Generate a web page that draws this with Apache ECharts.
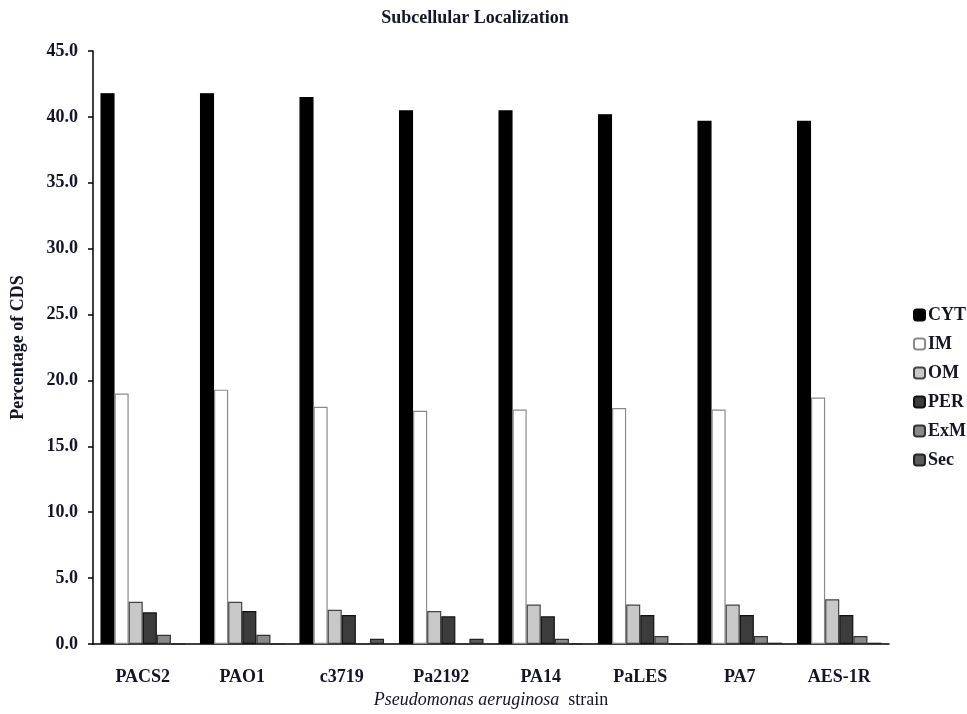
<!DOCTYPE html>
<html><head><meta charset="utf-8">
<script src="https://cdn.jsdelivr.net/npm/echarts@6/dist/echarts.min.js"></script>
<style>html,body{margin:0;padding:0;background:#fff}#c{width:967px;height:714px}</style>
</head><body><div id="c"></div>
<script>
var categories = ['PACS2','PAO1','c3719','Pa2192','PA14','PaLES','PA7','AES-1R'];
var seriesNames = ['CYT','IM','OM','PER','ExM','Sec'];
var CYT = [41.8, 41.8, 41.5, 40.5, 40.5, 40.2, 39.7, 39.7];
var IM  = [19.0, 19.3, 18.0, 17.7, 17.8, 17.9, 17.8, 18.7];
var OM  = [3.2, 3.2, 2.6, 2.5, 3.0, 3.0, 3.0, 3.4];
var PER = [2.4, 2.5, 2.2, 2.1, 2.1, 2.2, 2.2, 2.2];
var ExM = [0.7, 0.7, 0.0, 0.0, 0.4, 0.6, 0.6, 0.6];
var Sec = [0.0, 0.0, 0.4, 0.4, 0.0, 0.0, 0.1, 0.1];
var yTicks = {min: 0, max: 45, interval: 5};

var fills = ['#000000','#ffffff','#c8c8c8','#3c3c3c','#8a8a8a','#5a5a5a'];
var borders = ['#000000','#8a8a8a','#444444','#111111','#333333','#222222'];
var values = [CYT, IM, OM, PER, ExM, Sec];
var font = 'Liberation Serif';
var txt = '#14142a';

var series = seriesNames.map(function(n, i){
  return {
    name: n, type: 'bar', data: values[i],
    barGap: '0%', barCategoryGap: '15%',
    itemStyle: {color: fills[i], borderColor: borders[i], borderWidth: 1.2},
    emphasis: {disabled: true}
  };
});

var chart = echarts.init(document.getElementById('c'));
chart.setOption({
  animation: false,
  backgroundColor: '#fff',
  title: {text: 'Subcellular Localization', left: 470, top: 4, textAlign: 'center',
    textStyle: {fontFamily: font, fontWeight: 'bold', fontSize: 18, color: txt}},
  grid: {left: 93, right: 78, top: 51, bottom: 69},
  legend: {
    orient: 'vertical', left: 908, top: 301, itemGap: 11, itemWidth: 11, itemHeight: 11,
    data: seriesNames,
    textStyle: {fontFamily: font, fontWeight: 'bold', fontSize: 18, color: txt, padding: [0,0,0,-2]}
  },
  xAxis: {
    type: 'category', data: categories,
    axisLine: {lineStyle: {color: '#000', width: 1.5}},
    axisTick: {show: false},
    axisLabel: {fontFamily: font, fontWeight: 'bold', fontSize: 18, color: txt, margin: 24},
    name: '{i|Pseudomonas aeruginosa}{n|  strain}',
    nameLocation: 'middle', nameGap: 47,
    nameTextStyle: {rich: {
      i: {fontFamily: font, fontStyle: 'italic', fontSize: 18, color: txt},
      n: {fontFamily: font, fontSize: 18, color: txt}
    }}
  },
  yAxis: {
    type: 'value', min: yTicks.min, max: yTicks.max, interval: yTicks.interval,
    splitLine: {show: false},
    axisLine: {show: true, lineStyle: {color: '#000', width: 1.5}},
    axisTick: {show: true, length: 5, lineStyle: {color: '#000', width: 1.5}},
    axisLabel: {fontFamily: font, fontWeight: 'bold', fontSize: 18, color: txt, margin: 15,
      formatter: function(v){ return v.toFixed(1); }},
    name: 'Percentage of CDS', nameLocation: 'middle', nameGap: 66,
    nameTextStyle: {fontFamily: font, fontWeight: 'bold', fontSize: 18, color: txt}
  },
  series: series
});
</script></body></html>
